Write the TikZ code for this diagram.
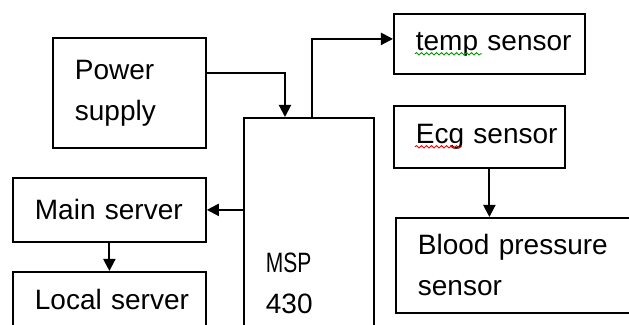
\documentclass[tikz,border=0pt]{standalone}
\usepackage{fontspec}
\usepackage{graphicx}
\setmainfont{Liberation Sans}
\usetikzlibrary{arrows.meta,decorations.pathmorphing}

\begin{document}
\begin{tikzpicture}[
  x=0.5pt, y=-0.5pt,
  box/.style={rectangle, draw, line width=0.9pt, anchor=north west, inner xsep=2pt,
    execute at begin node={\raggedright\leftskip=9pt\relax}, font=\fontsize{14pt}{20.5pt}\selectfont},
  arrow/.style={-{Triangle[length=6pt, width=6pt]}, line width=1pt},
  wavy/.style={decorate, decoration={snake, amplitude=0.6pt, segment length=2.5pt}, line width=0.45pt},
]
\useasboundingbox (0,0) rectangle (629,325);
\clip (0,0) rectangle (629,325);

% === Left column ===
\node[box, text width=72.5pt, minimum height=55pt] (power) at (52,37) {Power\\supply};
\node[box, text width=92.5pt, minimum height=32pt] (mainsrv) at (12,177) {Main server};
\node[box, text width=92.5pt, minimum height=28pt] (localsrv) at (12,271) {Local server};

% === Controller ===
\node[box, text width=61pt, minimum height=165.5pt] (msp) at (243,117) {\scalebox{0.75}[1]{MSP}\\430};

% === Sensors ===
\node[box, text width=91.5pt, minimum height=30pt] (temp) at (393,13) {temp sensor};
\node[box, text width=81.5pt, minimum height=31pt] (ecg) at (393,105) {Ecg sensor};
\node[box, text width=118pt, minimum height=47.5pt] (bp) at (395,217) {Blood pressure\\sensor};

% === Connections ===
\draw[arrow] ([yshift=-18pt]power.north east) -| ([xshift=21pt]msp.north west);
\draw[arrow] ([xshift=34.5pt]msp.north west) |- ([yshift=2.5pt]temp.west);
\draw[arrow] (msp.west |- mainsrv.east) -- (mainsrv.east);
\draw[arrow] (mainsrv.south) -- (localsrv.north);
\draw[arrow] ([xshift=5pt]ecg.south) -- ([xshift=5pt]ecg.south |- bp.north);

% spell-check marks
\draw[wavy, green!60!black] ([xshift=11pt, yshift=10.5pt]temp.south west) -- ++(67,0);
\draw[wavy, red] ([xshift=11pt, yshift=11pt]ecg.south west) -- ++(47,0);

\end{tikzpicture}
\end{document}
